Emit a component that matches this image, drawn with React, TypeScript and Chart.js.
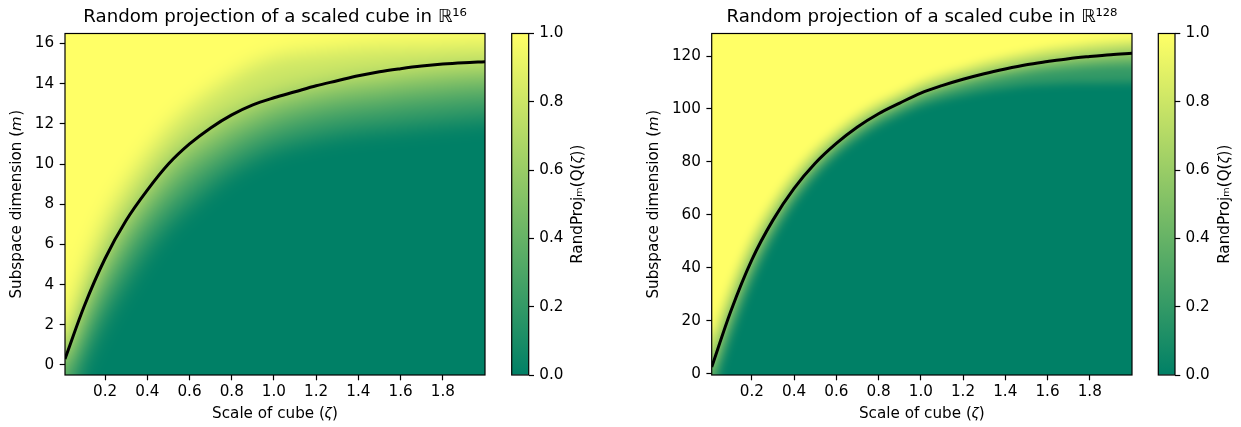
import React, { useEffect, useRef } from 'react';
import { Chart, registerables } from 'chart.js';

Chart.register(...registerables);

// ---------------- data ----------------
const zeta = [0.01, 0.1, 0.2, 0.3, 0.4, 0.5, 0.6, 0.7, 0.8, 0.9, 1.0, 1.1, 1.2, 1.3, 1.4, 1.5, 1.6, 1.7, 1.8, 1.9, 2.0];

// black threshold curves
const curveR16 = [0.3, 2.9, 5.3, 7.2, 8.7, 10.0, 11.0, 11.8, 12.45, 12.95, 13.3, 13.6, 13.9, 14.15, 14.4, 14.6, 14.75, 14.88, 14.98, 15.05, 15.1];
const curveR128 = [2.5, 23.5, 43, 58, 70, 79.5, 87, 93.2, 98.2, 102.2, 106, 108.8, 111.2, 113.3, 115.1, 116.7, 117.9, 119.0, 119.8, 120.5, 121.0];

// heat-map contour levels (value of RandProj) and the value used for the band below each contour
const contourLevels = [0.1, 0.3, 0.5, 0.7, 0.9];
const bandValues = [0.0, 0.2, 0.4, 0.6, 0.8];
const topValue = 1.0;

// R^16 contours (m where the probability crosses each level)
const r16Level10 = [-2.0, 0.2, 2.3, 4.0, 5.6, 6.9, 7.9, 8.8, 9.6, 10.2, 10.7, 11.0, 11.25, 11.45, 11.6, 11.7, 11.8, 11.9, 12.0, 12.1, 12.2];
const r16Level30 = [-1.0, 1.4, 3.7, 5.5, 7.0, 8.2, 9.2, 10.0, 10.7, 11.3, 11.75, 12.1, 12.35, 12.55, 12.7, 12.8, 12.95, 13.05, 13.15, 13.25, 13.3];
const r16Level50 = [-0.3, 2.3, 4.6, 6.5, 8.0, 9.3, 10.3, 11.0, 11.7, 12.2, 12.7, 13.0, 13.25, 13.45, 13.6, 13.7, 13.85, 13.95, 14.05, 14.15, 14.2];
const r16Level70 = [0.4, 3.2, 5.6, 7.5, 9.0, 10.3, 11.3, 12.0, 12.6, 13.1, 13.5, 13.8, 14.0, 14.2, 14.35, 14.45, 14.6, 14.7, 14.8, 14.85, 14.9];
const r16Level90 = [1.5, 4.6, 7.2, 9.0, 10.5, 11.8, 12.8, 13.6, 14.3, 14.9, 15.3, 15.5, 15.6, 15.7, 15.8, 15.85, 15.9, 15.9, 15.95, 16.0, 16.0];

// R^128 contours
const r128Level10 = [-9.1, 13.0, 34.0, 50.6, 63.7, 73.9, 82.0, 88.3, 93.4, 97.4, 100.9, 103.3, 105.1, 106.7, 107.8, 108.9, 109.3, 109.7, 109.8, 109.9, 110.0];
const r128Level30 = [-3.3, 18.3, 38.5, 54.3, 66.8, 76.7, 84.5, 90.9, 96.0, 100.1, 103.6, 106.2, 108.5, 110.4, 112.0, 113.4, 114.5, 115.2, 115.8, 116.3, 116.5];
const r128Level50 = [1.3, 22.5, 42.1, 57.3, 69.4, 78.9, 86.5, 92.7, 97.8, 101.8, 105.5, 108.2, 110.5, 112.5, 114.2, 115.7, 116.8, 117.8, 118.5, 119.1, 119.5];
const r128Level70 = [7.1, 27.7, 46.6, 61.0, 72.5, 81.7, 89.0, 95.1, 99.9, 103.9, 107.6, 110.4, 112.8, 114.9, 116.7, 118.3, 119.5, 120.6, 121.5, 122.3, 122.9];
const r128Level90 = [14.1, 34.0, 52.0, 65.4, 76.4, 85.1, 92.0, 97.9, 102.6, 106.4, 110.3, 113.2, 115.5, 117.8, 119.7, 121.3, 122.7, 123.8, 124.7, 125.4, 125.9];

// ticks
const xTicks = [0.2, 0.4, 0.6, 0.8, 1.0, 1.2, 1.4, 1.6, 1.8];
const yTicksR16 = [0, 2, 4, 6, 8, 10, 12, 14, 16];
const yTicksR128 = [0, 20, 40, 60, 80, 100, 120];
const colorbarTicks = [0.0, 0.2, 0.4, 0.6, 0.8, 1.0];

// ---------------- styling ----------------
const FAMILY = "'DejaVu Sans', sans-serif";
const TICK_SIZE = 15.2;
const TITLE_SIZE = 18.2;
const TICK_LEN = 5.3;
const LINE_W = 1.2;

// matplotlib "summer" colormap
function summer(v: number): string {
  const r = Math.round(255 * v);
  const g = Math.round(127.5 + 127.5 * v);
  return `rgb(${r},${g},102)`;
}

const framePlugin = {
  id: 'frame',
  afterDatasetsDraw(chart: any) {
    const a = chart.chartArea;
    const ctx = chart.ctx;
    ctx.save();
    ctx.strokeStyle = '#000';
    ctx.lineWidth = LINE_W;
    ctx.strokeRect(a.left, a.top, a.right - a.left, a.bottom - a.top);
    ctx.restore();
  },
};

const areaFillPlugin = {
  id: 'areaFill',
  beforeDatasetsDraw(chart: any, _args: any, opts: any) {
    if (!opts || !opts.color) return;
    const a = chart.chartArea;
    const ctx = chart.ctx;
    ctx.save();
    ctx.fillStyle = opts.color;
    ctx.fillRect(a.left, a.top, a.right - a.left, a.bottom - a.top);
    ctx.restore();
  },
};

// smooth the contour bands like an interpolated image (clamp-to-edge gaussian blur)
const softHeatPlugin = {
  id: 'softHeat',
  beforeDatasetDraw(chart: any, args: any, opts: any) {
    if (args.index !== 0 || !opts || !opts.radius) return;
    const radius = opts.radius;
    const a = chart.chartArea;
    const dpr = chart.currentDevicePixelRatio || 1;
    const L = Math.round(a.left), T = Math.round(a.top), R = Math.round(a.right), B = Math.round(a.bottom);
    const w = R - L, h = B - T;
    const M = Math.ceil(radius * 3);
    const off = document.createElement('canvas');
    off.width = w + 2 * M;
    off.height = h + 2 * M;
    const g = off.getContext('2d');
    if (!g) return;
    const src = chart.canvas;
    g.drawImage(src, L * dpr, T * dpr, w * dpr, h * dpr, M, M, w, h);
    g.drawImage(src, L * dpr, T * dpr, dpr, h * dpr, 0, M, M, h);
    g.drawImage(src, (R - 1) * dpr, T * dpr, dpr, h * dpr, M + w, M, M, h);
    g.drawImage(off, 0, M, w + 2 * M, 1, 0, 0, w + 2 * M, M);
    g.drawImage(off, 0, M + h - 1, w + 2 * M, 1, 0, M + h, w + 2 * M, M);
    const ctx = chart.ctx;
    ctx.save();
    ctx.beginPath();
    ctx.rect(L, T, w, h);
    ctx.clip();
    (ctx as any).filter = `blur(${radius}px)`;
    ctx.drawImage(off, L - M, T - M);
    ctx.restore();
  },
};

const tickFont = { family: FAMILY, size: TICK_SIZE };
const tickGrid = { display: true, drawOnChartArea: false, drawTicks: true, tickLength: TICK_LEN, tickWidth: LINE_W, tickColor: '#000' };

interface HeatSpec {
  title: string;
  curve: number[];
  contours: number[][];
  yMin: number;
  yMax: number;
  yTicks: number[];
  yLabel: string;
  xLabel: string;
  yAxisWidth: number;
  yTitlePad: number;
  padRight: number;
  blur: number;
}

function heatConfig(p: HeatSpec): any {
  const datasets: any[] = [
    {
      label: 'threshold',
      data: zeta.map((z, i) => ({ x: z, y: p.curve[i] })),
      borderColor: '#000',
      borderWidth: 3,
      pointRadius: 0,
      fill: false,
      cubicInterpolationMode: 'monotone',
    },
    ...p.contours.map((c, k) => ({
      label: `level ${contourLevels[k]}`,
      data: zeta.map((z, i) => ({ x: z, y: c[i] })),
      borderColor: 'rgba(0,0,0,0)',
      borderWidth: 0,
      pointRadius: 0,
      fill: 'start',
      backgroundColor: summer(bandValues[k]),
      cubicInterpolationMode: 'monotone',
    })),
  ];
  return {
    type: 'line',
    data: { datasets },
    options: {
      responsive: false,
      maintainAspectRatio: false,
      animation: false,
      events: [],
      layout: { padding: { left: 0, right: p.padRight, top: 0, bottom: 0 } },
      scales: {
        x: {
          type: 'linear',
          min: 0.01,
          max: 2.0,
          afterBuildTicks: (s: any) => { s.ticks = xTicks.map((v) => ({ value: v })); },
          afterFit: (s: any) => { s.height = 52; },
          ticks: { callback: (v: any) => Number(v).toFixed(1), font: tickFont, color: '#000', padding: 3.1, maxRotation: 0, autoSkip: false },
          grid: tickGrid,
          border: { display: false },
          title: { display: true, text: p.xLabel, font: tickFont, color: '#000', padding: { top: 0, bottom: 3.8 } },
        },
        y: {
          type: 'linear',
          min: p.yMin,
          max: p.yMax,
          afterBuildTicks: (s: any) => { s.ticks = p.yTicks.map((v) => ({ value: v })); },
          afterFit: (s: any) => { s.width = p.yAxisWidth; },
          ticks: { callback: (v: any) => String(v), font: tickFont, color: '#000', padding: 5.5, autoSkip: false },
          grid: tickGrid,
          border: { display: false },
          title: { display: true, text: p.yLabel, font: tickFont, color: '#000', padding: { top: p.yTitlePad, bottom: 0 } },
        },
      },
      plugins: {
        legend: { display: false },
        tooltip: { enabled: false },
        title: {
          display: true,
          text: p.title,
          fullSize: false,
          font: { family: FAMILY, size: TITLE_SIZE, weight: 'normal' },
          color: '#000',
          padding: { top: 6.7, bottom: 4.96 },
        },
        areaFill: { color: summer(topValue) },
        softHeat: { radius: p.blur },
      },
    },
    plugins: [areaFillPlugin, softHeatPlugin, framePlugin],
  };
}

function colorbarConfig(padLeft: number, axisWidth: number): any {
  return {
    type: 'bar',
    data: {
      labels: ['RandProj'],
      datasets: [
        {
          data: [[0, 1]],
          borderWidth: 0,
          barPercentage: 1,
          categoryPercentage: 1,
          backgroundColor: (c: any) => {
            const chart = c.chart;
            const y = chart.scales && chart.scales.y;
            if (!chart.chartArea || !y) return summer(0);
            const grad = chart.ctx.createLinearGradient(0, y.getPixelForValue(0), 0, y.getPixelForValue(1));
            grad.addColorStop(0, summer(0));
            grad.addColorStop(1, summer(1));
            return grad;
          },
        },
      ],
    },
    options: {
      responsive: false,
      maintainAspectRatio: false,
      animation: false,
      events: [],
      layout: { padding: { left: padLeft, right: 0, top: 33.5, bottom: 52 } },
      scales: {
        x: { display: false },
        y: {
          position: 'right',
          min: 0,
          max: 1,
          afterBuildTicks: (s: any) => { s.ticks = colorbarTicks.map((v) => ({ value: v })); },
          afterFit: (s: any) => { s.width = axisWidth; },
          ticks: { callback: (v: any) => Number(v).toFixed(1), font: tickFont, color: '#000', padding: 5.3 },
          grid: tickGrid,
          border: { display: false },
        },
      },
      plugins: { legend: { display: false }, tooltip: { enabled: false } },
    },
    plugins: [framePlugin],
  };
}

function colorbarLabelConfig(text: string): any {
  return {
    type: 'bar',
    data: { labels: [], datasets: [] },
    options: {
      responsive: false,
      maintainAspectRatio: false,
      animation: false,
      events: [],
      layout: { padding: { left: 0, right: 0, top: 33.5, bottom: 52 } },
      scales: {
        x: { display: false },
        y: {
          position: 'left',
          min: 0,
          max: 1,
          afterFit: (s: any) => { s.width = 28; },
          ticks: { display: false },
          grid: { display: false },
          border: { display: false },
          title: { display: true, text, font: tickFont, color: '#000', padding: { top: 3.9, bottom: 0 } },
        },
      },
      plugins: { legend: { display: false }, tooltip: { enabled: false } },
    },
  };
}

function ChartCanvas(props: { left: number; width: number; make: () => any }) {
  const ref = useRef<HTMLCanvasElement>(null);
  useEffect(() => {
    if (!ref.current) return;
    const chart = new Chart(ref.current, props.make());
    return () => chart.destroy();
  }, []);
  return (
    <canvas
      ref={ref}
      width={props.width}
      height={427}
      style={{ position: 'absolute', left: props.left, top: 0, width: props.width, height: 427 }}
    />
  );
}

export default function App() {
  return (
    <div style={{ position: 'fixed', left: 0, top: 0, width: 1241, height: 427, background: '#fff', overflow: 'hidden' }}>
      <ChartCanvas
        left={0}
        width={500}
        make={() =>
          heatConfig({
            title: 'Random projection of a scaled cube in ℝ¹⁶',
            curve: curveR16,
            contours: [r16Level10, r16Level30, r16Level50, r16Level70, r16Level90],
            yMin: -0.5,
            yMax: 16.5,
            yTicks: yTicksR16,
            yLabel: 'Subspace dimension (𝘮)',
            xLabel: 'Scale of cube (𝜁)',
            yAxisWidth: 65,
            yTitlePad: 8.4,
            padRight: 15,
            blur: 10,
          })
        }
      />
      <ChartCanvas left={500} width={70} make={() => colorbarConfig(11.7, 41.3)} />
      <ChartCanvas left={565} width={40} make={() => colorbarLabelConfig('RandProjₘ(Q(𝜁))')} />
      <ChartCanvas
        left={635}
        width={505}
        make={() =>
          heatConfig({
            title: 'Random projection of a scaled cube in ℝ¹²⁸',
            curve: curveR128,
            contours: [r128Level10, r128Level30, r128Level50, r128Level70, r128Level90],
            yMin: -0.5,
            yMax: 128.5,
            yTicks: yTicksR128,
            yLabel: 'Subspace dimension (𝘮)',
            xLabel: 'Scale of cube (𝜁)',
            yAxisWidth: 76.7,
            yTitlePad: 10.4,
            padRight: 8,
            blur: 4,
          })
        }
      />
      <ChartCanvas left={1145} width={70} make={() => colorbarConfig(13.3, 40)} />
      <ChartCanvas left={1212} width={29} make={() => colorbarLabelConfig('RandProjₘ(Q(𝜁))')} />
    </div>
  );
}
